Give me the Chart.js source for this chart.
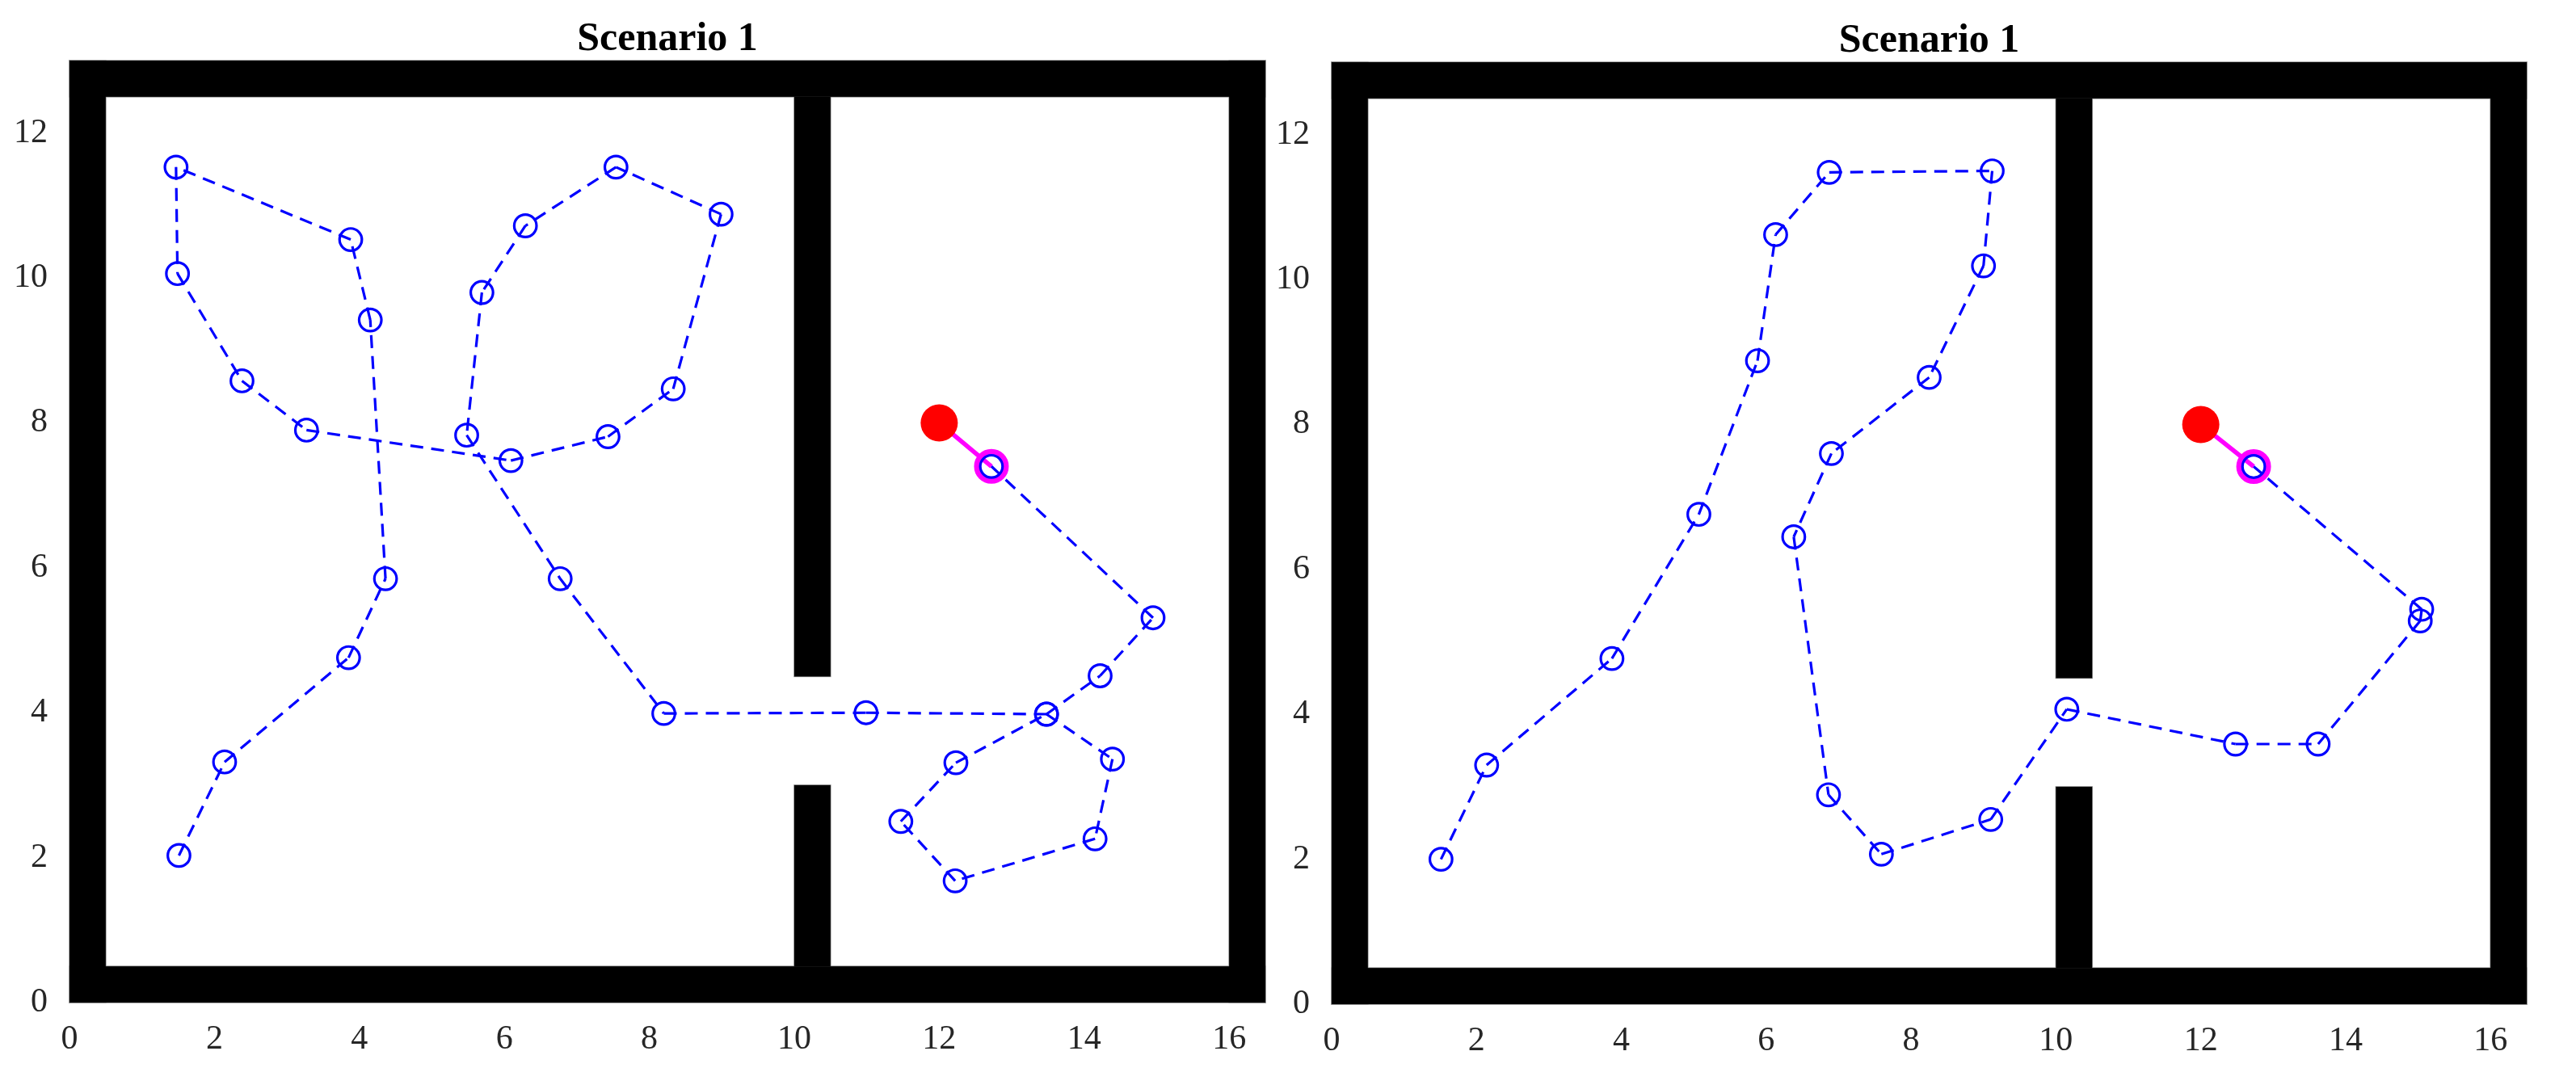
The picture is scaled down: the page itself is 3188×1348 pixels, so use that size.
<!DOCTYPE html>
<html>
<head>
<meta charset="utf-8">
<title>Scenario 1</title>
<script src="https://cdn.jsdelivr.net/npm/chart.js@4"></script>
<style>
  html, body { margin: 0; padding: 0; background: #fff; overflow: hidden; }
  canvas { position: absolute; }
  #left-chart { left: 0; top: 0; }
  #right-chart { left: 1562px; top: 2px; }
</style>
</head>
<body>
<canvas id="left-chart" width="1600" height="1346"></canvas>
<canvas id="right-chart" width="1626" height="1346"></canvas>
<script>
const xTicks = [0, 2, 4, 6, 8, 10, 12, 14, 16];
const yTicks = [0, 2, 4, 6, 8, 10, 12];
const chartTitle = "Scenario 1";

// x0, y0, x1, y1 in plot units
const walls = [
  [0, 0, 16.5, 0.5],
  [0, 12.5, 16.5, 13],
  [0, 0, 0.5, 13],
  [16, 0, 16.5, 13],
  [10, 0.5, 10.5, 3],
  [10, 4.5, 10.5, 12.5],
];

const goal = [12, 8];

const leftPathX = [1.51, 2.14, 3.85, 4.36, 4.15, 3.88, 1.47, 1.49, 2.38, 3.27, 6.09, 7.43, 8.33, 8.99, 7.54, 6.29, 5.69, 5.48, 6.77, 8.2, 10.99, 13.48, 14.39, 14.15, 12.22, 11.47, 12.23, 13.48, 14.22, 14.95, 12.72];
const leftPathY = [2.03, 3.32, 4.76, 5.85, 9.42, 10.53, 11.53, 10.06, 8.58, 7.9, 7.48, 7.81, 8.47, 10.88, 11.53, 10.72, 9.8, 7.83, 5.85, 3.99, 4, 3.98, 3.36, 2.26, 1.68, 2.5, 3.31, 3.98, 4.51, 5.31, 7.4];

const rightPathX = [1.51, 2.14, 3.87, 5.07, 5.88, 6.13, 6.87, 9.12, 9, 8.25, 6.9, 6.38, 6.86, 7.59, 9.1, 10.15, 12.48, 13.62, 15.03, 15.05, 12.73];
const rightPathY = [2, 3.3, 4.77, 6.76, 8.88, 10.62, 11.48, 11.5, 10.19, 8.65, 7.6, 6.45, 2.89, 2.07, 2.55, 4.07, 3.59, 3.59, 5.29, 5.45, 7.42];

const tickFont = { family: "'Liberation Serif', serif", size: 42 };
const tickColor = "#262626";

// walls go under everything else
const wallPlugin = {
  id: "walls",
  beforeDatasetsDraw(chart) {
    const { ctx, scales } = chart;
    const boxes = walls.map((w) => {
      const left = scales.x.getPixelForValue(w[0]);
      const right = scales.x.getPixelForValue(w[2]);
      const top = scales.y.getPixelForValue(w[3]);
      const bottom = scales.y.getPixelForValue(w[1]);
      return [left, top, right - left, bottom - top];
    });
    ctx.save();
    ctx.strokeStyle = "#8c8c8c";
    ctx.lineWidth = 1.5;
    boxes.forEach((b) => ctx.strokeRect(b[0], b[1], b[2], b[3]));
    ctx.fillStyle = "#000";
    boxes.forEach((b) => ctx.fillRect(b[0], b[1], b[2], b[3]));
    ctx.restore();
  },
};

function makeDatasets(pathX, pathY) {
  const points = pathX.map((x, i) => ({ x: x, y: pathY[i] }));
  const last = points[points.length - 1];
  const sets = [];

  // goal dot goes on top, first dataset is drawn last
  sets.push({
    data: [{ x: goal[0], y: goal[1] }],
    showLine: false,
    pointRadius: 23,
    pointBackgroundColor: "#ff0000",
    pointBorderWidth: 0,
  });

  // rings first, then each leg on its own so the dash restarts at every point
  sets.push({
    data: points,
    showLine: false,
    pointRadius: 13.8,
    pointBackgroundColor: "rgba(0,0,0,0)",
    pointBorderColor: "#0000ff",
    pointBorderWidth: 3.2,
  });
  for (let i = 0; i < points.length - 1; i++) {
    sets.push({
      data: [points[i], points[i + 1]],
      showLine: true,
      borderColor: "#0000ff",
      borderWidth: 3.2,
      borderDash: [16, 10],
      pointRadius: 0,
    });
  }

  sets.push({
    data: [{ x: goal[0], y: goal[1] }, last],
    showLine: true,
    borderColor: "#ff00ff",
    borderWidth: 5.5,
    pointRadius: 0,
  });
  sets.push({
    data: [last],
    showLine: false,
    pointRadius: 18,
    pointBackgroundColor: "rgba(0,0,0,0)",
    pointBorderColor: "#ff00ff",
    pointBorderWidth: 7,
  });
  return sets;
}

function drawChart(canvas, rightGap, pathX, pathY) {
  new Chart(canvas.getContext("2d"), {
    type: "scatter",
    data: { datasets: makeDatasets(pathX, pathY) },
    plugins: [wallPlugin],
    options: {
      responsive: false,
      animation: false,
      layout: { padding: { left: 0, right: rightGap, top: 0, bottom: 0 } },
      plugins: {
        legend: { display: false },
        tooltip: { enabled: false },
        title: {
          display: true,
          fullSize: false,
          text: chartTitle,
          color: "#000",
          font: { family: "'Liberation Serif', serif", size: 50, weight: "bold", lineHeight: 1 },
          padding: { top: 24, bottom: 1 },
        },
      },
      scales: {
        x: {
          type: "linear",
          min: 0,
          max: 16.5,
          grid: { display: false },
          border: { display: false },
          afterBuildTicks: (scale) => { scale.ticks = xTicks.map((v) => ({ value: v })); },
          afterFit: (scale) => { scale.height = 105; },
          ticks: { font: tickFont, color: tickColor, padding: 13, maxRotation: 0, autoSkip: false },
        },
        y: {
          type: "linear",
          min: 0,
          max: 13,
          grid: { display: false },
          border: { display: false },
          afterBuildTicks: (scale) => { scale.ticks = yTicks.map((v) => ({ value: v })); },
          afterFit: (scale) => { scale.width = 86; },
          ticks: { font: tickFont, color: tickColor, padding: 19, autoSkip: false },
        },
      },
    },
  });
}

drawChart(document.querySelector("#left-chart"), 34, leftPathX, leftPathY);
drawChart(document.querySelector("#right-chart"), 61, rightPathX, rightPathY);
</script>
</body>
</html>
